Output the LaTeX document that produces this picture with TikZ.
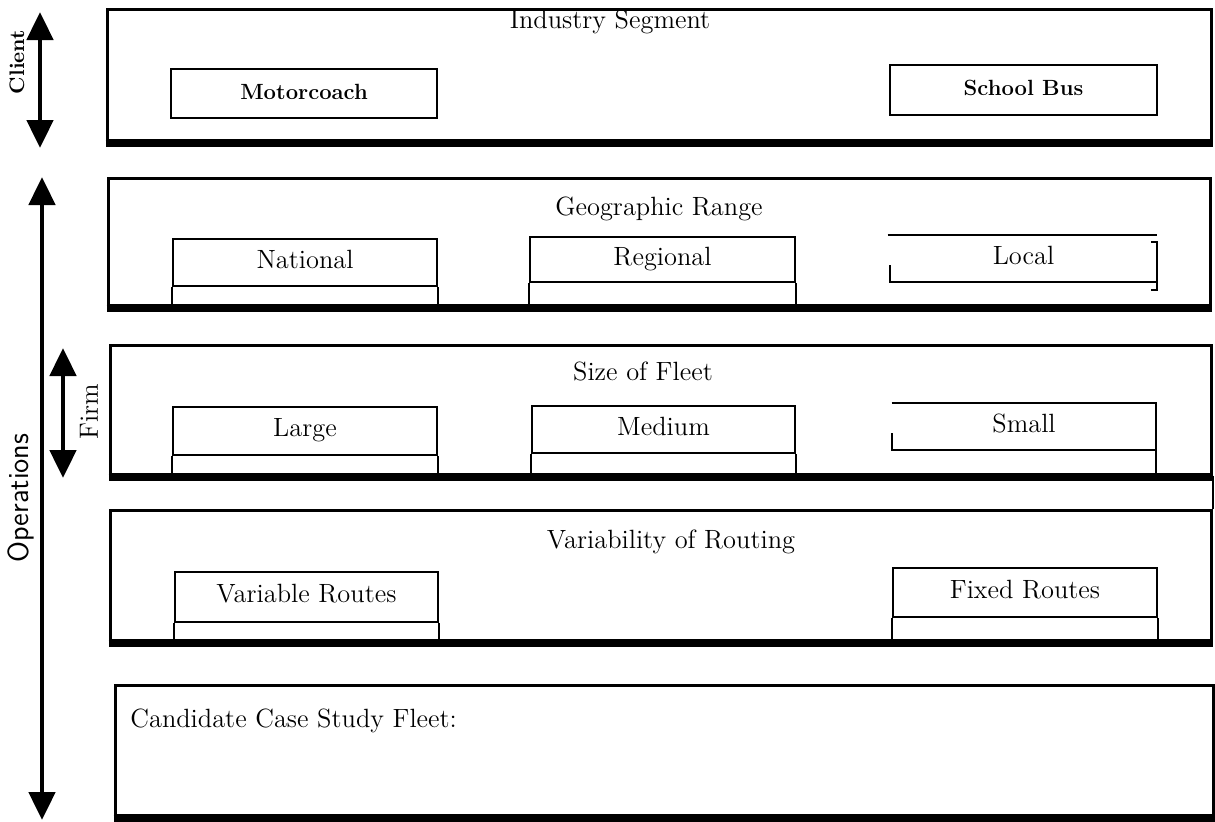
\documentclass[tikz,border=0pt]{standalone}
\usetikzlibrary{fit,arrows.meta}
\begin{document}
\begin{tikzpicture}[x=0.5pt,y=-0.5pt,
  every node/.style={font=\fontsize{13.2}{15}\selectfont},
  outer/.style={draw, line width=1.5pt, inner sep=0pt},
  inbox/.style={draw, line width=1pt, inner sep=0pt},
  frame/.style={inner sep=0pt},
  lbl/.style={inner sep=0pt, text height=1.6ex, text depth=0.3ex},
  inl/.style={line width=1pt},
  base/.style={line width=3.5pt},
  bold/.style={font=\bfseries\fontsize{11}{13}\selectfont},
  dbl/.style={line width=2.4pt, {Triangle[width=13pt,length=14pt]}-{Triangle[width=13pt,length=14pt]}},
]
\useasboundingbox[fill=white] (0,0) rectangle (1215,821);

% ---------- Industry Segment ----------
\node[outer, fit={(107,9) (1211,140)}] (seg) {};
\draw[base] ([yshift=-1pt]seg.south west) -- ([yshift=-1pt]seg.south east);
\node[lbl] (segT) at (610,23) {Industry Segment};
\node[inbox, fit={(171,69) (437,118)}] (moto) {};
\node[lbl, bold] (motoT) at (moto.center) {Motorcoach};
\node[inbox, fit={(890,65) (1157,115)}] (school) {};
\node[lbl, bold] (schoolT) at (school.center) {School Bus};

% ---------- Geographic Range ----------
\node[outer, fit={(108,178) (1210,305)}] (geo) {};
\draw[base] ([yshift=-1pt]geo.south west) -- ([yshift=-1pt]geo.south east);
\node[lbl] (geoT) at (659,210) {Geographic Range};
\node[inbox, fit={(173,239) (437,286)}] (nat) {};
\node[lbl] (natT) at (nat.center) {National};
\draw[inl] (nat.south west) -- (nat.south west |- geo.south);
\draw[inl] (nat.south east) -- (nat.south east |- geo.south);
\node[inbox, fit={(530,237) (795,282)}] (reg) {};
\node[lbl] (regT) at (reg.center) {Regional};
\draw[inl] (reg.south west) -- (reg.south west |- geo.south);
\draw[inl] (reg.south east) -- (reg.south east |- geo.south);
\node[frame, fit={(890,235) (1157,282)}] (loc) {};
\node[lbl] (locT) at (loc.center) {Local};
\draw[inl] ([xshift=-1pt]loc.north west) -- (loc.north east);
\draw[inl] ([yshift=8.5pt]loc.south west) -- (loc.south west) -- ([xshift=-0.5pt]loc.south east);
\draw[inl] ([xshift=-3pt,yshift=-3.5pt]loc.north east) -- ([yshift=-3.5pt]loc.north east)
  -- ([yshift=-4pt]loc.south east) -- ([xshift=-3pt,yshift=-4pt]loc.south east);

% ---------- Size of Fleet ----------
\node[outer, fit={(110,345) (1211,474)}] (size) {};
\draw[base] ([yshift=-1pt]size.south west) -- ([yshift=-1pt]size.south east);
\node[lbl] (sizeT) at (643,375) {Size of Fleet};
\node[inbox, fit={(173,407) (437,455)}] (large) {};
\node[lbl] (largeT) at (large.center) {Large};
\draw[inl] (large.south west) -- (large.south west |- size.south);
\draw[inl] (large.south east) -- (large.south east |- size.south);
\node[inbox, fit={(532,406) (795,453)}] (med) {};
\node[lbl] (medT) at (med.center) {Medium};
\draw[inl] (med.south west) -- (med.south west |- size.south);
\draw[inl] (med.south east) -- (med.south east |- size.south);
\node[frame, fit={(892,403) (1156,450)}] (small) {};
\node[lbl] (smallT) at (small.center) {Small};
\draw[inl] (small.north west) -- (small.north east) -- (small.north east |- size.south);
\draw[inl] ([yshift=8.5pt]small.south west) -- (small.south west) -- (small.south east);

% ---------- Variability of Routing ----------
\node[outer, fit={(110,510) (1211,640)}] (var) {};
\draw[base] ([yshift=-1pt]var.south west) -- ([yshift=-1pt]var.south east);
\draw[inl] (size.south east) -- (var.north east);
\node[lbl] (varT) at (671,543) {Variability of Routing};
\node[inbox, fit={(175,572) (438,622)}] (vroute) {};
\node[lbl] (vrouteT) at (vroute.center) {Variable Routes};
\draw[inl] (vroute.south west) -- (vroute.south west |- var.south);
\draw[inl] (vroute.south east) -- (vroute.south east |- var.south);
\node[inbox, fit={(893,568) (1157,617)}] (froute) {};
\node[lbl] (frouteT) at (froute.center) {Fixed Routes};
\draw[inl] (froute.south west) -- (froute.south west |- var.south);
\draw[inl] (froute.south east) -- (froute.south east |- var.south);

% ---------- Candidate ----------
\node[outer, fit={(115,685) (1213,815)}] (cand) {};
\draw[base] ([yshift=-1pt]cand.south west) -- ([yshift=-1pt]cand.south east);
\node[lbl, anchor=west] (candT) at (130,722) {Candidate Case Study Fleet:};

% ---------- side arrows ----------
\coordinate (cT) at (40,12);
\coordinate (cB) at (40,148);
\draw[dbl] (cT) -- (cB);
\node[rotate=90, inner sep=0pt, font=\bfseries\fontsize{10.5}{12}\selectfont] (client) at (17,62) {Client};

\coordinate (oT) at (42,177);
\coordinate (oB) at (42,820);
\draw[dbl] (oT) -- (oB);
\node[rotate=90, inner sep=0pt, font=\sffamily\fontsize{14.5}{16}\selectfont] (ops) at (21,498) {Operations};

\coordinate (fT) at (63,348);
\coordinate (fB) at (63,478);
\draw[dbl] (fT) -- (fB);
\node[rotate=90, inner sep=0pt] (firm) at (89,412) {Firm};
\end{tikzpicture}
\end{document}
